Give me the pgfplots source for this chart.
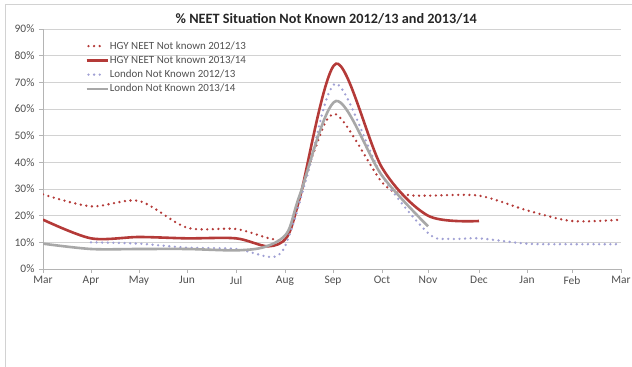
\documentclass[border=0pt]{standalone}
\usepackage{fontspec}
\setmainfont{Carlito}
\usepackage{pgfplots}
\pgfplotsset{compat=1.18}

\definecolor{hgyred}{RGB}{180,58,56}
\definecolor{lonlav}{RGB}{160,160,212}
\definecolor{longray}{RGB}{168,168,168}
\definecolor{gridgray}{RGB}{210,210,210}
\definecolor{axisgray}{RGB}{180,180,180}
\definecolor{textgray}{RGB}{80,80,80}

% short legend sample for the dotted series
\pgfplotsset{dotlegend/.style={legend image code/.code={\draw[##1] (2bp,0bp) -- (14bp,0bp);}}}

\begin{document}
\begin{tikzpicture}
\path[use as bounding box] (0,0) rectangle (632bp,367bp);
% outer chart frame
\draw[color=gridgray, line width=0.8bp] (5bp,-2bp) -- (5bp,363bp) -- (640bp,363bp);
\begin{axis}[
  at={(43bp,98bp)}, anchor=south west,
  scale only axis, width=578bp, height=240bp,
  xmin=0, xmax=578, ymin=0, ymax=90,
  xtick={0,48,96,144,193,242,290,339,385,436,484,529,578},
  xticklabels={Mar,Apr,May,Jun,Jul,Aug,Sep,Oct,Nov,Dec,Jan,Feb,Mar},
  ytick={0,10,20,30,40,50,60,70,80,90},
  yticklabels={0\%,10\%,20\%,30\%,40\%,50\%,60\%,70\%,80\%,90\%},
  axis x line*=bottom, axis y line*=left,
  axis line style={color=axisgray, line width=0.8bp},
  tick style={color=axisgray, line width=0.8bp},
  tick align=outside, major tick length=4bp,
  ymajorgrids, grid style={color=gridgray, line width=0.8bp},
  tick label style={color=textgray, font=\fontsize{11.5}{13}\selectfont},
  yticklabel style={xshift=-1bp},
  title={\textbf{\% NEET Situation Not Known 2012/13 and 2013/14}},
  title style={font=\fontsize{14.3}{16}\selectfont, color=black!85, at={(0.49,1)}, yshift=-5bp},
  legend style={draw=none, fill=none, at={(0.0727,0.957)}, anchor=north west,
    font=\fontsize{11}{12}\selectfont, text=textgray, row sep=1.2bp,
    inner sep=0pt, nodes={inner xsep=1bp}},
  legend cell align=left,
  legend image code/.code={\draw[#1] (0bp,0bp) -- (21bp,0bp);},
]
% Haringey 2012/13
\addplot[hgyred, line width=2.6bp, dash pattern=on 0pt off 5.6bp, line cap=round, smooth, dotlegend]
  coordinates {(0,28) (48,23.5) (96,25.5) (144,15.5) (193,15) (229,11.3) (245,13) (270,43)
               (293,58) (339,32.5) (362,28) (385,27.5) (436,27.5) (484,22) (529,18) (578,18.5)};
\addlegendentry{HGY NEET Not known 2012/13}
% Haringey 2013/14
\addplot[hgyred, line width=2.6bp, smooth]
  coordinates {(0,18.5) (48,11.5) (96,12) (144,11.5) (193,11.5) (225,8.5) (244,12) (257,27)
               (293,77) (339,38) (385,20) (436,18)};
\addlegendentry{HGY NEET Not known 2013/14}
% London 2012/13
\addplot[lonlav, line width=2.6bp, dash pattern=on 0pt off 5.6bp, line cap=round, smooth, dotlegend]
  coordinates {(48,10) (96,9.5) (144,8) (193,7.5) (227,4.5) (240,7.1) (252,19) (265,36)
               (293,69.5) (339,35) (385,13.5) (407,11.3) (436,11.5) (484,9.5) (529,9.3) (578,9.3)};
\addlegendentry{London Not Known 2012/13}
% London 2013/14
\addplot[longray, line width=2.6bp, smooth]
  coordinates {(0,9.5) (48,7.5) (96,7.5) (144,7.5) (193,7) (222,8.3) (244,13.5) (257,28)
               (293,63) (339,35) (385,16)};
\addlegendentry{London Not Known 2013/14}
\end{axis}
\end{tikzpicture}
\end{document}
